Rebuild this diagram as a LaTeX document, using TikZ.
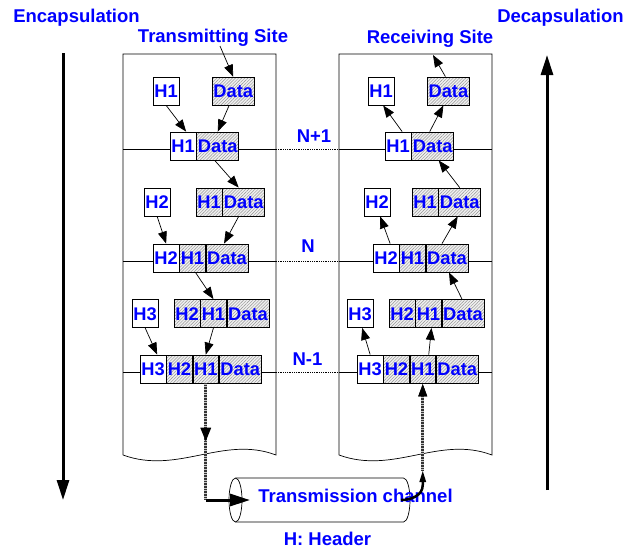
\documentclass[tikz,border=0pt]{standalone}
\usepackage{fontspec}
\setmainfont{Liberation Sans}
\usetikzlibrary{arrows.meta,patterns.meta,decorations.markings}

\tikzset{
  lbl/.style={text=blue, font=\fontsize{18.5}{20}\selectfont\bfseries, inner sep=0pt, anchor=base},
  seg/.style={draw, line width=0.8pt, fill=white, inner sep=0pt, minimum height=28pt,
    text height=13pt, text depth=0pt, text=blue, font=\fontsize{18.3}{20}\selectfont\bfseries, anchor=west},
  hseg/.style={seg, preaction={fill=gray!12}, pattern={Lines[angle=45,distance=2.2pt,line width=0.45pt]}, pattern color=gray!85},
  hw/.style={minimum width=25.5pt},
  dw/.style={minimum width=42pt},
  arr/.style={line width=0.7pt, -{Triangle[length=12pt,width=9pt]}},
  colline/.style={line width=0.7pt},
  layer/.style={line width=0.7pt},
  gap/.style={line width=0.8pt, densely dotted},
  hatchline/.style={line width=3pt, draw=black!80, dash pattern=on 0.5pt off 1.1pt,
    preaction={draw=gray!45, line width=3pt, solid}},
  bigarr/.style={line width=3pt, -{Triangle[length=20pt,width=12pt]}},
}

\begin{document}
\begin{tikzpicture}[x=1pt,y=-1pt]
\useasboundingbox (0,0) rectangle (628,550);

% headings
\node[lbl] (enc) at (76.5,22) {Encapsulation};
\node[lbl] (dec) at (560.5,22) {Decapsulation};
\node[lbl] (tsite) at (213,42) {Transmitting Site};
\node[lbl] (rsite) at (430,43) {Receiving Site};
\node[lbl] (hdr) at (327.5,545) {H: Header};

% direction arrows
\coordinate (encTop) at (63,53);
\coordinate (encBot) at (63,500);
\coordinate (decBot) at (547,490);
\coordinate (decTop) at (547,55);
\draw[bigarr] (encTop) -- (encBot);
\draw[bigarr] (decBot) -- (decTop);

% the two protocol stacks (torn-off bottom edge)
\draw[colline] (123,455) -- (123,54) -- (276,54) -- (276,455)
  .. controls (223,435) and (178,475) .. (123,455);
\draw[colline] (339,455) -- (339,54) -- (492,54) -- (492,455)
  .. controls (439,435) and (394,475) .. (339,455);

% layer boundaries
\foreach \yy in {149,261,372} {
  \draw[layer] (123,\yy) -- (276,\yy);
  \draw[gap] (276,\yy) -- (339,\yy);
  \draw[layer] (339,\yy) -- (492,\yy);
}
\node[lbl] (nA) at (314,142) {N+1};
\node[lbl] (nB) at (308,252.5) {N};
\node[lbl] (nC) at (307.5,365) {N-1};

% ---- transmitting side ----
\node[seg,hw] (L1h) at (153,91) {H1};
\node[hseg,dw] (L1d) at (212,91) {Data};
\node[seg,hw] (L1cH) at (170,146) {H1};
\node[hseg,dw] (L1cD) at (L1cH.east) {Data};

\node[seg,hw] (L2h) at (144,202) {H2};
\node[hseg,hw] (L2aH1) at (196,202) {H1};
\node[hseg,dw] (L2aD) at (L2aH1.east) {Data};
\node[seg,hw] (L2cH2) at (153,258) {H2};
\node[hseg,hw] (L2cH1) at (L2cH2.east) {H1};
\node[hseg,dw] (L2cD) at (L2cH1.east) {Data};

\node[seg,hw] (L3h) at (132,313.5) {H3};
\node[hseg,hw] (L3aH2) at (174,313.5) {H2};
\node[hseg,hw] (L3aH1) at (L3aH2.east) {H1};
\node[hseg,dw] (L3aD) at (L3aH1.east) {Data};
\node[seg,hw] (L3cH3) at (140,369) {H3};
\node[hseg,hw] (L3cH2) at (L3cH3.east) {H2};
\node[hseg,hw] (L3cH1) at (L3cH2.east) {H1};
\node[hseg,dw] (L3cD) at (L3cH1.east) {Data};

% ---- receiving side ----
\node[seg,hw] (R1h) at (368,91) {H1};
\node[hseg,dw] (R1d) at (427,91) {Data};
\node[seg,hw] (R1cH) at (385,146) {H1};
\node[hseg,dw] (R1cD) at (R1cH.east) {Data};

\node[seg,hw] (R2h) at (364,202) {H2};
\node[hseg,hw] (R2aH1) at (412,202) {H1};
\node[hseg,dw] (R2aD) at (R2aH1.east) {Data};
\node[seg,hw] (R2cH2) at (373,258) {H2};
\node[hseg,hw] (R2cH1) at (R2cH2.east) {H1};
\node[hseg,dw] (R2cD) at (R2cH1.east) {Data};

\node[seg,hw] (R3h) at (347,313.5) {H3};
\node[hseg,hw] (R3aH2) at (389,313.5) {H2};
\node[hseg,hw] (R3aH1) at (R3aH2.east) {H1};
\node[hseg,dw] (R3aD) at (R3aH1.east) {Data};
\node[seg,hw] (R3cH3) at (357,369) {H3};
\node[hseg,hw] (R3cH2) at (R3cH3.east) {H2};
\node[hseg,hw] (R3cH1) at (R3cH2.east) {H1};
\node[hseg,dw] (R3cD) at (R3cH1.east) {Data};

% encapsulation arrows
\coordinate (txin) at (220,46);
\draw[arr] (txin) -- (L1d.north);
\draw[arr] (L1h.south) -- ([xshift=3pt]L1cH.north);
\draw[arr] ([xshift=-4pt]L1d.south) -- (L1cD.north);
\draw[arr] ([xshift=-3pt]L1cD.south) -- ([xshift=-5pt]L2aD.north);
\draw[arr] (L2h.south) -- (L2cH2.north);
\draw[arr] ([xshift=-5pt]L2aD.south) -- ([xshift=-3pt]L2cD.north);
\draw[arr] ([xshift=3pt]L2cH1.south) -- (L3aH1.north);
\draw[arr] (L3h.south) -- ([xshift=4pt]L3cH3.north);
\draw[arr] (L3aH1.south) -- (L3cH1.north);

% decapsulation arrows
\coordinate (rxout) at (433,55);
\draw[arr] ([xshift=-3pt]R1d.north) -- (rxout);
\draw[arr] ([xshift=4pt]R1cH.north) -- ([xshift=2pt]R1h.south);
\draw[arr] ([xshift=-3pt]R1cD.north) -- ([xshift=-5pt]R1d.south);
\draw[arr] (R2aD.north) -- ([xshift=6pt]R1cD.south);
\draw[arr] ([xshift=4pt]R2cH2.north) -- ([xshift=3pt]R2h.south);
\draw[arr] ([xshift=-5pt]R2cD.north) -- ([xshift=-2pt]R2aD.south);
\draw[arr] ([xshift=-1pt]R3aD.north) -- ([xshift=2pt]R2cD.south);
\draw[arr] (R3cH3.north) -- ([xshift=2pt]R3h.south);
\draw[arr] ([xshift=6pt]R3cH1.north) -- ([xshift=3pt]R3aH1.south);

% transmission channel (cylinder)
\draw[line width=0.7pt, fill=white] (235.5,478) -- (403.5,478)
  arc[start angle=-90, end angle=90, x radius=6.5, y radius=22] -- (235.5,522);
\draw[line width=0.7pt, fill=white] (235.5,500) ellipse [x radius=6.5, y radius=22];
\node[lbl] (chan) at (355.5,502) {Transmission channel};

% physical path: sender down into the channel, out and up to the receiver
\coordinate (tcorner) at (L3cH1.south |- 0,500);
\coordinate (chin) at (250,500);
\draw[hatchline, postaction={decorate, decoration={markings,
  mark=at position 0.5 with {\arrow{Triangle[length=14pt,width=10pt,color=black]}}}}]
  (L3cH1.south) -- (tcorner);
\draw[bigarr] (tcorner) -- (chin);

\coordinate (rcin) at (401,500);
\coordinate (rbend) at (R3cH1.south |- 0,485);
\coordinate (rcorner) at (R3cH1.south |- 0,470);
\draw[line width=2.5pt, -{Triangle[length=12pt,width=6pt]}]
  (rcin) to[out=0,in=-90] (rbend) -- (rcorner);
\draw[hatchline, -{Triangle[length=13pt,width=8pt,color=black]}] (rcorner) -- (R3cH1.south);
\end{tikzpicture}
\end{document}
